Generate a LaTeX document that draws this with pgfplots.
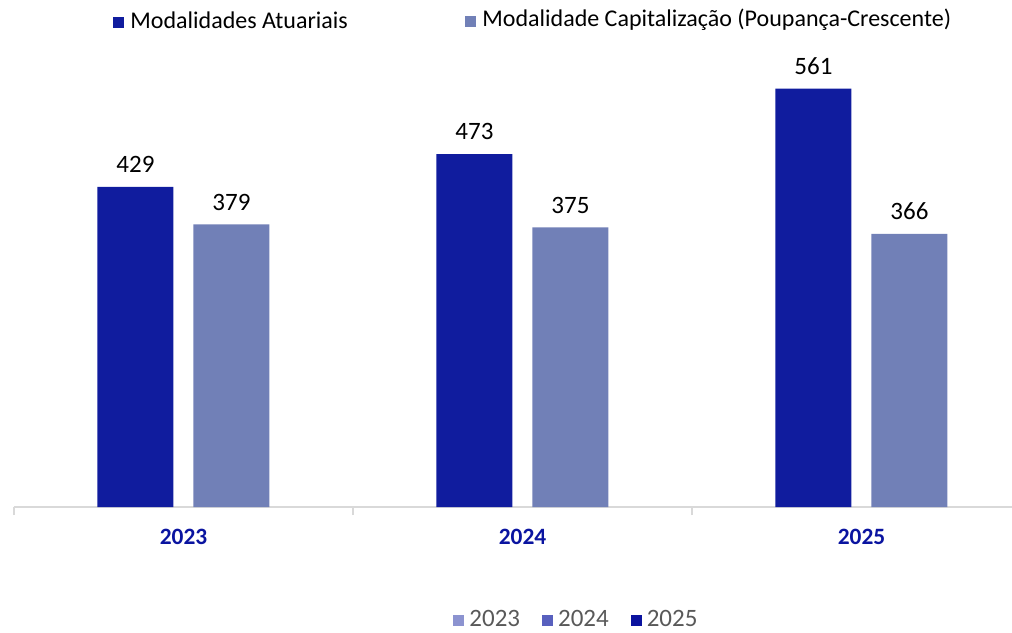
\documentclass[border=0pt]{standalone}
\usepackage{fontspec}
\setmainfont{Carlito}
\usepackage{pgfplots}
\pgfplotsset{compat=1.18}

\definecolor{atuar}{RGB}{16,28,158}
\definecolor{capit}{RGB}{113,128,183}
\definecolor{catblue}{RGB}{10,20,160}
\definecolor{axgray}{RGB}{217,217,217}
\definecolor{leg23}{RGB}{140,147,208}
\definecolor{leg24}{RGB}{88,96,190}
\definecolor{leg25}{RGB}{11,19,159}
\definecolor{txtgray}{RGB}{89,89,89}

\newcommand{\sq}[1]{\textcolor{#1}{\rule{5.5pt}{5.5pt}}}

\begin{document}
\begin{tikzpicture}
  \path[use as bounding box] (-7pt,-62.5pt) rectangle (499pt,253.5pt);
  \begin{axis}[
    at={(0,0)}, anchor=south west, scale only axis,
    width=499pt, height=223.8pt,
    xmin=-0.5, xmax=2.444, ymin=0, ymax=600,
    axis y line=none, axis x line*=bottom,
    x axis line style={draw=axgray, line width=1pt},
    xtick={0,1,2}, xticklabels={2023,2024,2025},
    major tick length=0pt,
    xticklabel style={font=\bfseries\fontsize{11.7}{14}\selectfont, text=catblue, yshift=-7.5pt},
    extra x ticks={-0.5,0.5,1.5}, extra x tick labels={},
    extra x tick style={major tick length=4pt, tick align=outside,
      tick style={draw=axgray, line width=0.6pt}},
    /pgf/number format/assume math mode=true,
    ybar, bar width=38pt,
    nodes near coords,
    every node near coord/.append style={text=black, font=\fontsize{12.5}{15}\selectfont, yshift=3.5pt},
  ]
  \addplot[fill=atuar, draw=none, bar shift=-24pt] coordinates {(0,429) (1,473) (2,561)};
  \addplot[fill=capit, draw=none, bar shift=24pt] coordinates {(0,379) (1,375) (2,366)};
  \end{axis}

  % top legend
  \node[anchor=west, inner sep=0pt, font=\fontsize{12}{14}\selectfont] at (49.5pt,243.5pt)
    {\sq{atuar}\hspace{3pt}Modalidades Atuariais};
  \node[anchor=west, inner sep=0pt, font=\fontsize{12}{14}\selectfont] at (225.5pt,243.5pt)
    {\sq{capit}\hspace{3pt}Modalidade Capitalização (Poupança-Crescente)};

  % bottom legend
  \node[anchor=west, inner sep=0pt, text=txtgray, font=\fontsize{12.5}{15}\selectfont] at (219.5pt,-55.5pt)
    {\sq{leg23}\hspace{2.5pt}2023\hspace{11pt}\sq{leg24}\hspace{2.5pt}2024\hspace{11pt}\sq{leg25}\hspace{2.5pt}2025};
\end{tikzpicture}
\end{document}
